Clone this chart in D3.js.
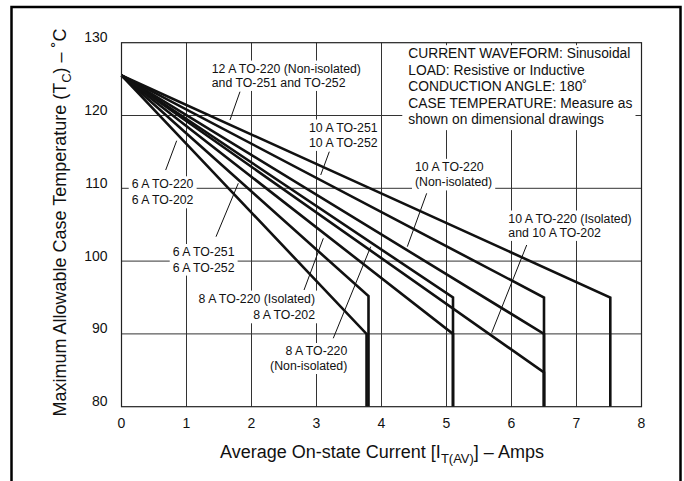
<!DOCTYPE html>
<html>
<head>
<meta charset="utf-8">
<script src="https://cdn.jsdelivr.net/npm/d3@7"></script>
<style>
body { margin: 0; background: #fff; }
text { font-family: "Liberation Sans", Arial, Helvetica, sans-serif; fill: #111; }
</style>
</head>
<body>
<div id="chart"></div>
<script>
// ================= data =================
// every curve starts at the same case temperature and falls straight
// to a knee, then drops vertically to the bottom of the chart
const startTemp = 125.5;
const floorTemp = 80;
const kneeCurrent = [3.77, 3.80, 5.10, 5.10, 6.50, 6.50, 6.50, 7.52];
const kneeTemp    = [90.0, 95.2, 95.0, 90.0, 95.0, 90.0, 84.7, 95.0];

const xTicks = [0, 1, 2, 3, 4, 5, 6, 7, 8];
const yTicks = [80, 90, 100, 110, 120, 130];

const infoLines = [
	"CURRENT WAVEFORM: Sinusoidal",
	"LOAD: Resistive or Inductive",
	"CONDUCTION ANGLE: 180\u02DA",
	"CASE TEMPERATURE: Measure as",
	"shown on dimensional drawings"
];

// curve labels (position in amps / degC, first baseline) and their pointers
const labelLines = [
	["12 A TO-220 (Non-isolated)", "and TO-251 and TO-252"],
	["10 A TO-251", "10 A TO-252"],
	["10 A TO-220", "(Non-isolated)"],
	["10 A TO-220 (Isolated)", "and 10 A TO-202"],
	["6 A TO-220", "6 A TO-202"],
	["6 A TO-251", "6 A TO-252"],
	["8 A TO-220 (Isolated)", "8 A TO-202"],
	["8 A TO-220", "(Non-isolated)"]
];
const labelAnchor = ["start", "start", "start", "start", "start", "start", "end", "end"];
const labelAt  = [[1.388, 125.9], [2.885, 117.8], [4.515, 112.4], [5.951, 105.3],
                  [0.157, 110.0], [0.788, 100.7], [2.977, 94.3], [3.474, 87.1]];
const labelGap = [14.4, 15.4, 15.6, 14.4, 16, 15.6, 16.7, 15];
const pointerFrom = [[1.823, 123.27], [3.197, 115.03], [4.695, 109.31], [6.234, 102.21],
                     [0.680, 112.51], [1.454, 103.35], [2.808, 96.03], [3.258, 89.40]];
const pointerTo   = [[1.669, 119.38], [3.065, 111.83], [4.397, 101.98], [5.695, 90.16],
                     [0.849, 116.54], [1.797, 110.69], [3.105, 103.13], [3.834, 101.98]];

// ================= layout =================
const W = 684, H = 481;
const plot = {left: 121.5, top: 42.7, right: 641.5, bottom: 406.7};

const svg = d3.select('#chart').append('svg')
	.attr('width', W)
	.attr('height', H);

// outer frame (open at the bottom, like the source figure)
svg.append('path')
	.attr('d', 'M11.5,' + (H + 5) + 'V7H680.5V' + (H + 5))
	.attr('fill', 'none')
	.attr('stroke', '#000')
	.attr('stroke-width', 2.5);

const x = d3.scaleLinear().domain([0, 8]).range([plot.left, plot.right]);
const y = d3.scaleLinear().domain([80, 130]).range([plot.bottom, plot.top]);

// grid
const grid = svg.append('g');
grid.selectAll('line.vx')
	.data(xTicks.slice(1, -1))
	.enter().append('line')
	.attr('x1', d => x(d)).attr('x2', d => x(d))
	.attr('y1', plot.top).attr('y2', plot.bottom)
	.attr('stroke', '#333').attr('stroke-width', 1);
grid.selectAll('line.hy')
	.data(yTicks.slice(1, -1))
	.enter().append('line')
	.attr('x1', plot.left).attr('x2', plot.right)
	.attr('y1', d => y(d)).attr('y2', d => y(d))
	.attr('stroke', '#333').attr('stroke-width', 1);

// tick labels
svg.append('g').selectAll('text')
	.data(xTicks).enter().append('text')
	.attr('x', d => x(d))
	.attr('y', plot.bottom + 21.5)
	.attr('text-anchor', 'middle')
	.attr('font-size', 14)
	.text(d => d);
svg.append('g').selectAll('text')
	.data(yTicks).enter().append('text')
	.attr('x', 107.5)
	.attr('y', d => y(d) - 0.5)
	.attr('text-anchor', 'end')
	.attr('font-size', 14)
	.text(d => d);

// axis titles
const xTitle = svg.append('text')
	.attr('x', 382).attr('y', 458)
	.attr('text-anchor', 'middle')
	.attr('font-size', 18);
xTitle.append('tspan').text('Average On-state Current [I');
xTitle.append('tspan').attr('font-size', 13).attr('dy', 5).text('T(AV)');
xTitle.append('tspan').attr('dy', -5).text('] \u2013 Amps');

const yTitle = svg.append('text')
	.attr('transform', 'translate(66,222.5) rotate(-90)')
	.attr('text-anchor', 'middle')
	.attr('font-size', 18);
yTitle.append('tspan').text('Maximum Allowable Case Temperature (T');
yTitle.append('tspan').attr('font-size', 13).attr('dy', 5).text('C');
yTitle.append('tspan').attr('dy', -5).text(') \u2013 \u02DAC');

// info block with a white backing that hides the grid
const info = svg.append('g');
const infoBg = info.append('rect').attr('fill', '#fff');
info.selectAll('text')
	.data(infoLines).enter().append('text')
	.attr('x', x(4.412))
	.attr('y', (d, i) => y(127.88) + i * 16.5)
	.attr('font-size', 13.8)
	.text(d => d);
const ib = info.node().getBBox();
infoBg.attr('x', ib.x - 6).attr('y', plot.top + 2.5)
	.attr('width', ib.width + 9).attr('height', ib.y + ib.height + 3 - plot.top - 2.5);

// curve labels with white backing
labelLines.forEach(function(lines, i){
	const g = svg.append('g');
	const bg = g.append('rect').attr('fill', '#fff');
	lines.forEach(function(t, j){
		g.append('text')
			.attr('x', x(labelAt[i][0]))
			.attr('y', y(labelAt[i][1]) + j * labelGap[i])
			.attr('text-anchor', labelAnchor[i])
			.attr('font-size', 12.3)
			.text(t);
	});
	const b = g.node().getBBox();
	bg.attr('x', b.x - 3).attr('y', b.y - 1)
		.attr('width', b.width + 6).attr('height', b.height + 2);
});

// pointer lines
svg.append('g').selectAll('line')
	.data(pointerFrom).enter().append('line')
	.attr('x1', d => x(d[0])).attr('y1', d => y(d[1]))
	.attr('x2', (d, i) => x(pointerTo[i][0])).attr('y2', (d, i) => y(pointerTo[i][1]))
	.attr('stroke', '#111').attr('stroke-width', 1);

// derating curves
const curves = kneeCurrent.map((k, i) => [[0, startTemp], [k, kneeTemp[i]], [k, floorTemp]]);
const line = d3.line().x(d => x(d[0])).y(d => y(d[1]));
svg.append('g').selectAll('path')
	.data(curves).enter().append('path')
	.attr('d', line)
	.attr('fill', 'none')
	.attr('stroke', '#111')
	.attr('stroke-width', 2.6)
	.attr('stroke-linejoin', 'miter');

// plot border
svg.append('rect')
	.attr('x', plot.left).attr('y', plot.top)
	.attr('width', plot.right - plot.left).attr('height', plot.bottom - plot.top)
	.attr('fill', 'none').attr('stroke', '#222').attr('stroke-width', 1.2);
</script>
</body>
</html>
